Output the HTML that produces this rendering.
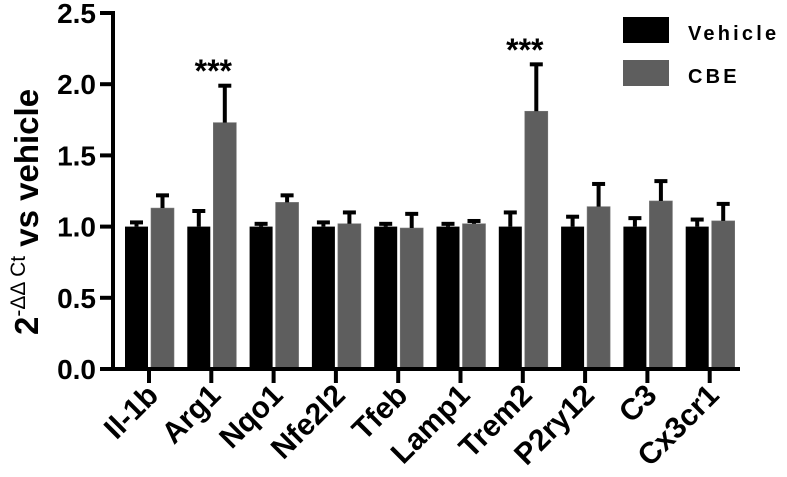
<!DOCTYPE html>
<html><head><meta charset="utf-8">
<style>
body{margin:0;background:#fff;}
svg{display:block;font-family:"Liberation Sans",Arial,sans-serif;}
</style></head>
<body>
<svg id="chart" width="787" height="477" viewBox="0 0 787 477"></svg>
<script>
const categories=["Il-1b","Arg1","Nqo1","Nfe2l2","Tfeb","Lamp1","Trem2","P2ry12","C3","Cx3cr1"];
const vehicleValues=[1,1,1,1,1,1,1,1,1,1];
const vehicleErr=[0.04,0.12,0.03,0.04,0.03,0.03,0.11,0.08,0.07,0.06];
const cbeValues=[1.13,1.73,1.17,1.02,0.99,1.02,1.81,1.14,1.18,1.04];
const cbeErr=[0.10,0.27,0.06,0.09,0.11,0.03,0.34,0.17,0.15,0.13];
const yTicks=["0.0","0.5","1.0","1.5","2.0","2.5"];
const sigLabels=["","***","","","","","***","","",""];

const NS="http://www.w3.org/2000/svg";
const svg=document.getElementById('chart');
function y(v){return 369-v*142.4;}
function x(i){return 149+i*62.3;}
function mk(t,a,parent){const e=document.createElementNS(NS,t);for(const k in a)e.setAttribute(k,a[k]);(parent||svg).appendChild(e);return e;}

categories.forEach((c,i)=>{
  const cx=x(i);
  [[vehicleValues,vehicleErr,cx-24,'#000','vehicle'],[cbeValues,cbeErr,cx+2,'#5e5e5e','cbe']].forEach(([vals,errs,bx,col,nm])=>{
    const v=vals[i],e=errs[i];
    const bar=mk('rect',{x:bx,y:y(v),width:23,height:y(0)-y(v),fill:col,stroke:col==='#000'?'none':'#777','stroke-width':0.6});
    
    
    const g=mk('g',{stroke:'#000','stroke-width':4});
    
    
    mk('line',{x1:bx+11.5,x2:bx+11.5,y1:y(v),y2:y(v+e)},g);
    mk('line',{x1:bx+5,x2:bx+18,y1:y(v+e)+1.5,y2:y(v+e)+1.5},g);
  });
  if(sigLabels[i]){
    const t=mk('text',{x:cx+2,y:y(cbeValues[i]+cbeErr[i])-2,'font-size':32,'font-weight':'bold','text-anchor':'middle'});
    t.textContent=sigLabels[i];
    
    
  }
  const tk=mk('line',{x1:cx,x2:cx,y1:369,y2:383,stroke:'#000','stroke-width':4});
  
  
  const lbl=mk('text',{x:cx+11,y:397,'font-size':30,'font-weight':'bold','text-anchor':'end',transform:`rotate(-45 ${cx+11} 397)`});
  lbl.textContent=c;
  
  
});

const ax=mk('g',{stroke:'#000','stroke-width':4});


mk('line',{x1:113,x2:113,y1:11,y2:371},ax);
mk('line',{x1:111,x2:740,y1:369,y2:369},ax);
yTicks.forEach(t=>{
  const v=parseFloat(t);
  const l=mk('line',{x1:100,x2:113,y1:y(v),y2:y(v),stroke:'#000','stroke-width':4});
  
  
  const tx=mk('text',{x:96,y:y(v)+10,'font-size':28,'font-weight':'bold','text-anchor':'end'});
  tx.textContent=t;
  
  
});
</script>
<svg style="position:absolute;left:0;top:0" width="787" height="477">
<g transform="translate(38 335) rotate(-90)" font-family="Liberation Sans, Arial, sans-serif">
<text x="0" y="0" font-size="33" font-weight="bold">2<tspan font-size="21" font-weight="normal" dy="-13">-ΔΔ Ct</tspan><tspan dy="13"> vs vehicle</tspan></text>
</g>
<g font-family="Liberation Sans, Arial, sans-serif">
<rect x="623" y="17" width="46" height="26" fill="#000"/>
<text x="688" y="40" font-size="20" font-weight="bold" letter-spacing="3.2">Vehicle</text>
<rect x="623" y="60" width="46" height="26" fill="#5e5e5e"/>
<text x="688" y="83" font-size="20" font-weight="bold" letter-spacing="3.2">CBE</text>
</g>
</svg>
</body></html>
